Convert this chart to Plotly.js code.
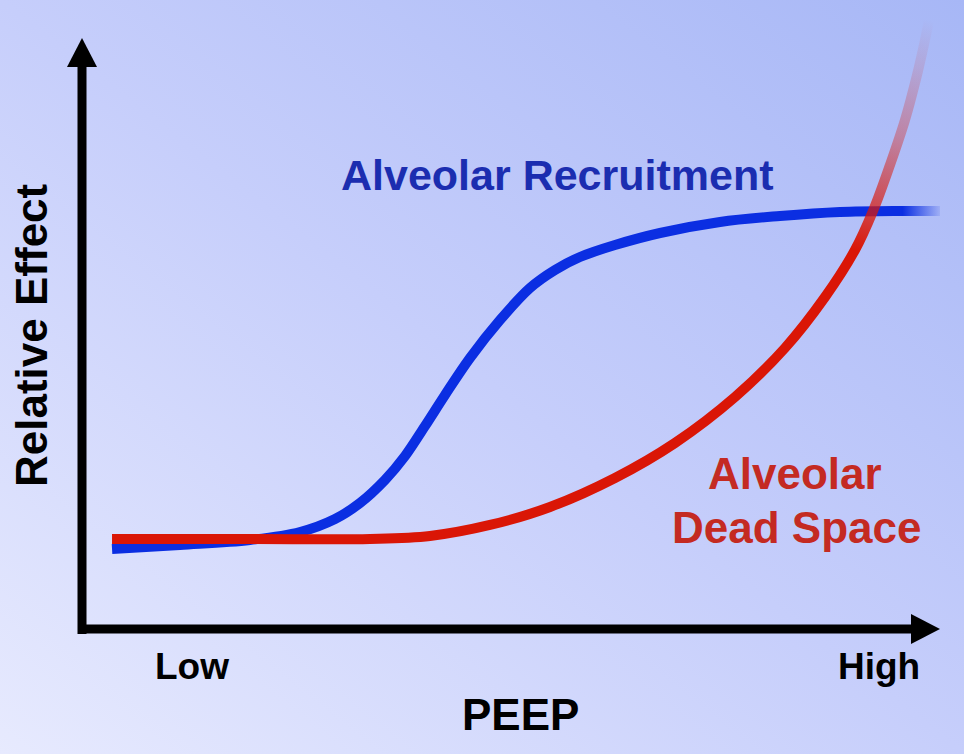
<!DOCTYPE html>
<html>
<head>
<meta charset="utf-8">
<script src="https://cdn.plot.ly/plotly-3.0.1.min.js"></script>
<style>
  html, body { margin: 0; padding: 0; }
  body { width: 964px; height: 754px; overflow: hidden;
         background: linear-gradient(to top right, #e7eafe 0%, #c6cefb 50%, #a7b7f6 100%); }
  #chart { width: 964px; height: 754px; }
</style>
</head>
<body>
<div id="chart"></div>
<script>
// ---- data (x: PEEP, 0 = low .. 100 = high; y: relative effect) ----
const recruitX = [3.50, 11.42, 19.58, 25.41, 29.49, 32.40, 35.31, 37.65, 39.98, 42.31, 45.22, 48.72, 52.21, 55.13, 58.04, 62.12, 67.37, 74.36, 81.35, 88.34, 95.34, 97.09, 98.83, 100.0];
const recruitY = [13.68, 14.36, 15.20, 16.55, 18.75, 21.45, 25.34, 29.39, 34.46, 39.70, 45.95, 52.36, 57.77, 60.81, 63.01, 65.03, 67.06, 68.92, 69.93, 70.61, 70.78, 70.78, 70.78, 70.78];
const deadX = [3.50, 19.58, 33.57, 40.56, 47.55, 54.55, 62.12, 69.11, 76.11, 81.93, 86.60, 90.09, 92.19, 94.17, 95.92, 97.32, 98.25, 98.72];
const deadY = [15.37, 15.37, 15.37, 15.88, 17.74, 20.78, 25.68, 31.59, 39.36, 47.64, 56.25, 64.19, 70.78, 78.55, 86.15, 93.75, 99.66, 103.04];
const xLabels = ["Low", "High"];
const xTitle = "PEEP";
const yTitle = "Relative Effect";
const seriesNames = ["Alveolar Recruitment", "Alveolar", "Dead Space"];

// ---- style ----
const BLUE = 'rgb(11,46,226)';
const RED = 'rgb(218,22,6)';
const LW = 10;
const FONT = "Liberation Sans, Arial, sans-serif";
const RECRUIT_FADE_FROM = 20;   // index where the blue tail starts fading
const DEAD_FADE_FROM = 11;      // index where the red tail starts fading

const traces = [
  { x: recruitX, y: recruitY, mode: 'lines', name: seriesNames[0],
    line: { color: BLUE, width: LW, shape: 'spline', smoothing: 1 }, hoverinfo: 'skip' },
  { x: deadX, y: deadY, mode: 'lines', name: seriesNames[1] + ' ' + seriesNames[2],
    line: { color: RED, width: LW, shape: 'spline', smoothing: 1 }, hoverinfo: 'skip' }
];

// pixel -> paper helpers for layout decoration
const L = 82, R = 940, T = 10, B = 630;
const PX = p => (p - L) / (R - L);
const PY = p => (B - p) / (B - T);

const shapes = [
  { type: 'line', xref: 'paper', yref: 'paper', x0: PX(82), x1: PX(82), y0: PY(634), y1: PY(62), line: { color: '#000', width: 9 } },
  { type: 'path', xref: 'paper', yref: 'paper',
    path: `M ${PX(82)},${PY(38)} L ${PX(67)},${PY(67)} L ${PX(97)},${PY(67)} Z`, fillcolor: '#000', line: { width: 0 } },
  { type: 'line', xref: 'paper', yref: 'paper', x0: PX(78), x1: PX(915), y0: PY(629), y1: PY(629), line: { color: '#000', width: 9 } },
  { type: 'path', xref: 'paper', yref: 'paper',
    path: `M ${PX(940)},${PY(629)} L ${PX(911)},${PY(614)} L ${PX(911)},${PY(644)} Z`, fillcolor: '#000', line: { width: 0 } }
];

function ann(text, px, py, size, color, angle) {
  return { text: text, xref: 'paper', yref: 'paper', x: PX(px), y: PY(py),
    xanchor: 'center', yanchor: 'middle', showarrow: false, textangle: angle || 0,
    font: { family: FONT, size: size, color: color, weight: 'bold' } };
}

const annotations = [
  ann(xLabels[0], 192, 667, 37, '#000'),
  ann(xLabels[1], 879, 667, 37, '#000'),
  ann(xTitle, 520, 714, 44, '#000'),
  ann(yTitle, 31, 335, 44, '#000', -90),
  ann(seriesNames[0], 557, 175, 43, '#1b2db0'),
  ann(seriesNames[1], 795, 473, 44, '#c42a22'),
  ann(seriesNames[2], 796, 527, 44, '#c42a22')
];

const layout = {
  width: 964, height: 754,
  margin: { l: L, r: 964 - R, t: T, b: 754 - B, pad: 0 },
  paper_bgcolor: 'rgba(0,0,0,0)', plot_bgcolor: 'rgba(0,0,0,0)',
  xaxis: { range: [0, 100], showgrid: false, zeroline: false, showticklabels: false, showline: false, fixedrange: true },
  yaxis: { range: [0, (B - T) / 5.92], showgrid: false, zeroline: false, showticklabels: false, showline: false, fixedrange: true },
  shapes: shapes,
  annotations: annotations,
  showlegend: false
};

const gd = document.getElementById('chart');
Plotly.newPlot(gd, traces, layout, { displayModeBar: false, staticPlot: true }).then(() => {
  const xa = gd._fullLayout.xaxis, ya = gd._fullLayout.yaxis;
  const svg = gd.querySelector('.main-svg');
  const NS = 'http://www.w3.org/2000/svg';
  let defs = svg.querySelector('defs');
  if (!defs) { defs = document.createElementNS(NS, 'defs'); svg.insertBefore(defs, svg.firstChild); }

  function fade(id, color, x0, y0, x1, y1, stops) {
    const g = document.createElementNS(NS, 'linearGradient');
    g.setAttribute('id', id);
    g.setAttribute('gradientUnits', 'userSpaceOnUse');
    g.setAttribute('x1', xa.l2p(x0)); g.setAttribute('y1', ya.l2p(y0));
    g.setAttribute('x2', xa.l2p(x1)); g.setAttribute('y2', ya.l2p(y1));
    stops.forEach(([o, a]) => {
      const s = document.createElementNS(NS, 'stop');
      s.setAttribute('offset', o);
      s.setAttribute('stop-color', color);
      s.setAttribute('stop-opacity', a);
      g.appendChild(s);
    });
    defs.appendChild(g);
  }
  const nR = recruitX.length - 1, nD = deadX.length - 1;
  fade('fadeBlue', BLUE, recruitX[RECRUIT_FADE_FROM] + 0.3, recruitY[RECRUIT_FADE_FROM],
       recruitX[nR] + 0.5, recruitY[nR], [[0, 1], [0.4, 0.6], [0.75, 0.25], [1, 0]]);
  fade('fadeRed', RED, deadX[DEAD_FADE_FROM], deadY[DEAD_FADE_FROM],
       deadX[nD], deadY[nD], [[0, 1], [0.18, 0.72], [0.5, 0.35], [0.8, 0.12], [1, 0]]);

  const lines = gd.querySelectorAll('.scatterlayer .trace path.js-line');
  if (lines[0]) lines[0].style.stroke = 'url(#fadeBlue)';
  if (lines[1]) lines[1].style.stroke = 'url(#fadeRed)';
});
</script>
</body>
</html>
